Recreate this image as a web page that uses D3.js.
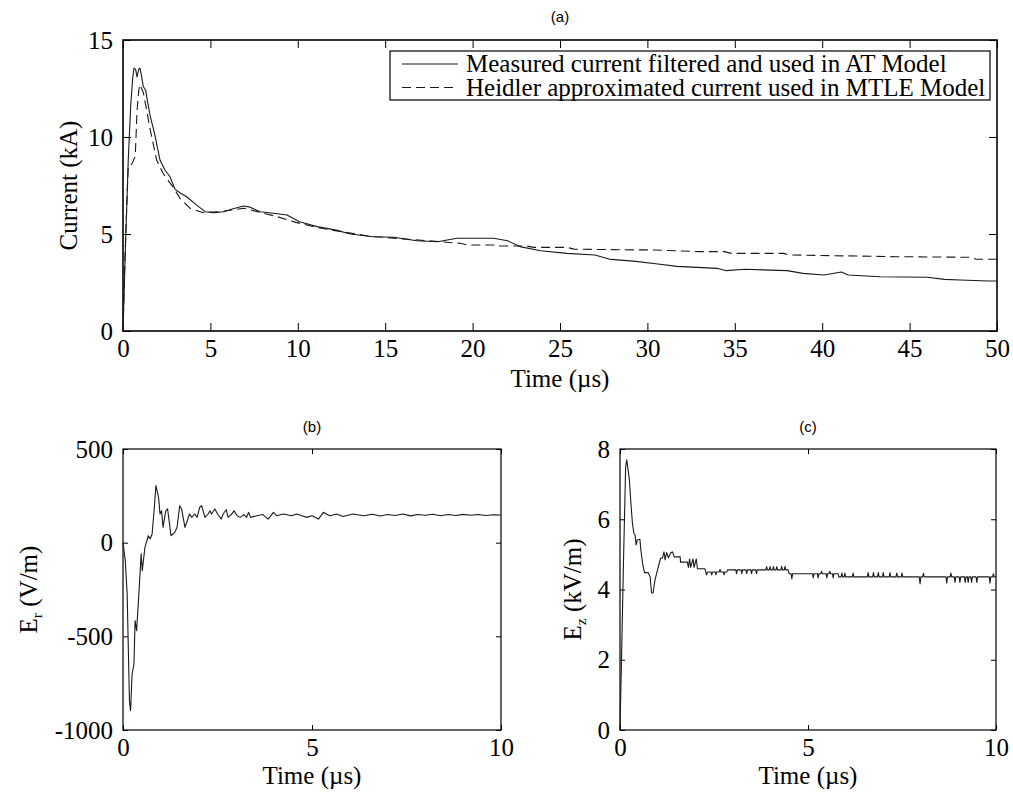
<!DOCTYPE html>
<html>
<head>
<meta charset="utf-8">
<script src="https://cdn.jsdelivr.net/npm/d3@7"></script>
<style>
  html, body { margin: 0; padding: 0; background: #fff; }
  svg { display: block; }
  .tick text { font-family: "Liberation Serif", "Times New Roman", serif; fill: #000; }
</style>
</head>
<body>
<svg id="fig" width="1013" height="798"></svg>
<script>
// ---- (a) lightning return-stroke current, kA vs µs ----
const measuredCurrent = [
  [0,0],[0.17,5.2],[0.3,8.8],[0.44,11.6],[0.55,13.0],[0.63,13.55],[0.72,13.5],[0.8,13.1],
  [0.9,13.5],[0.97,13.55],[1.05,13.2],[1.16,12.6],[1.3,12.4],[1.39,11.9],[1.55,11.1],
  [1.8,10.2],[2.12,8.8],[2.4,8.3],[2.69,7.95],[2.98,7.3],[3.3,7.1],[3.64,6.92],[4.2,6.5],
  [4.7,6.15],[5.2,6.1],[5.76,6.15],[6.3,6.3],[6.9,6.44],[7.2,6.4],[7.85,6.15],[8.6,6.07],
  [9.38,5.98],[10.1,5.63],[11.1,5.38],[12.2,5.2],[13,5.0],[14.3,4.86],[15.5,4.83],
  [16.8,4.65],[18,4.6],[19.1,4.78],[21.2,4.78],[22,4.65],[22.7,4.35],[23.9,4.14],
  [25.4,4.0],[27,3.92],[27.9,3.69],[29.2,3.6],[30.6,3.45],[31.7,3.33],[34,3.23],
  [34.5,3.11],[35.6,3.18],[38,3.11],[38.9,2.97],[40.1,2.89],[41.1,3.04],[41.5,2.89],
  [43.3,2.8],[46,2.77],[47,2.66],[47.9,2.63],[49.5,2.58],[50,2.58]
];
const heidlerCurrent = [
  [0,0],[0.1,3.5],[0.3,8.5],[0.5,8.6],[0.7,9.0],[0.8,11.3],[0.9,12.4],[0.97,12.7],
  [1.16,12.3],[1.35,11.4],[1.55,10.4],[1.93,8.8],[2.31,8.1],[2.88,7.4],[3.26,6.84],
  [3.84,6.32],[4.6,6.1],[5.6,6.15],[6.9,6.33],[7.9,6.1],[8.8,5.9],[9.9,5.6],[11,5.35],
  [12.5,5.12],[14,4.9],[16,4.75],[18.2,4.6],[19.3,4.52],[19.7,4.43],[21.2,4.43],
  [21.6,4.38],[23.1,4.38],[23.5,4.31],[25.4,4.31],[25.8,4.22],[29.2,4.18],[30.2,4.18],
  [33,4.09],[34.4,4.09],[34.8,4.0],[37.8,4.0],[38.1,3.92],[44.3,3.83],[48.5,3.8],
  [48.8,3.7],[50,3.7]
];
const currentTicksX = [0,5,10,15,20,25,30,35,40,45,50];
const currentTicksY = [0,5,10,15];
const legendLabels = [
  "Measured current filtered and used in AT Model",
  "Heidler approximated current used in MTLE Model"
];

// ---- (b) radial electric field Er, V/m vs µs ----
const radialField = [
  [0,0],[0.06,-96],[0.11,-274],[0.17,-843],[0.2,-897],[0.24,-701],[0.29,-648],[0.32,-416],
  [0.36,-470],[0.43,-238],[0.48,-60],[0.51,-150],[0.58,-25],[0.67,37],[0.72,20],[0.77,46],
  [0.83,189],[0.87,305],[0.94,242],[0.98,153],[1.02,170],[1.06,82],[1.13,170],[1.18,180],
  [1.27,37],[1.37,55],[1.43,82],[1.5,197],[1.55,180],[1.64,82],[1.7,117],[1.76,153],
  [1.82,135],[1.9,153],[1.96,135],[2.03,189],[2.08,197],[2.17,135],[2.25,153],[2.3,170],
  [2.34,153],[2.43,180],[2.5,153],[2.6,126],[2.65,153],[2.73,176],[2.78,135],[2.86,150],
  [2.94,170],[3.02,144],[3.1,135],[3.2,150],[3.27,135],[3.32,162],[3.38,135],[3.54,144],
  [3.7,150],[3.84,126],[3.98,162],[4.06,144],[4.24,153],[4.46,144],[4.6,153],[4.73,144],
  [4.86,135],[5.0,144],[5.17,126],[5.3,162],[5.47,144],[5.65,153],[5.82,140],[6.09,153],
  [6.36,144],[6.6,152],[6.8,142],[7.0,150],[7.2,145],[7.4,153],[7.6,143],[7.8,150],
  [8.0,146],[8.2,152],[8.4,144],[8.6,150],[8.8,145],[9.0,151],[9.2,146],[9.4,150],
  [9.6,145],[9.8,149],[10,148]
];
const fieldTicksX = [0,5,10];
const radialTicksY = [-1000,-500,0,500];

// ---- (c) vertical electric field Ez, kV/m vs µs ----
const verticalField = [
  [0,0],[0.04,2.0],[0.09,4.65],[0.15,7.5],[0.18,7.69],[0.25,7.12],[0.29,6.46],[0.33,5.89],
  [0.37,5.6],[0.4,5.55],[0.43,5.27],[0.46,5.41],[0.53,5.43],[0.55,5.17],[0.6,4.75],
  [0.65,4.48],[0.75,4.48],[0.8,4.37],[0.84,3.9],[0.88,3.9],[0.93,4.27],[1.02,4.65],
  [1.08,4.89],[1.13,4.9],[1.17,5.07],[1.2,4.84],[1.24,5.05],[1.29,4.9],[1.35,5.05],
  [1.4,5.07],[1.44,4.93],[1.6,4.93],[1.61,4.78],[1.79,4.78],[1.82,4.63],[1.85,4.87],
  [1.88,4.63],[1.94,4.87],[1.97,4.63],[2.03,4.87],[2.06,4.59],[2.26,4.59],[2.28,4.5],
  [2.3,4.42],[2.33,4.5],[2.42,4.5],[2.44,4.42],[2.46,4.5],[2.53,4.5],[2.55,4.42],[2.57,4.5],
  [2.64,4.5],[2.66,4.57],[2.68,4.5],[2.75,4.5],[2.77,4.42],[2.79,4.5],[2.84,4.5],[2.86,4.56],
  [3.08,4.56],[3.1,4.45],[3.12,4.56],[3.22,4.56],[3.24,4.45],[3.26,4.56],[3.35,4.56],
  [3.37,4.45],[3.39,4.56],[3.48,4.56],[3.5,4.45],[3.52,4.56],[3.61,4.56],[3.63,4.45],
  [3.65,4.56],[3.88,4.56],[3.9,4.65],[3.92,4.56],[3.97,4.56],[3.99,4.65],[4.01,4.56],
  [4.06,4.56],[4.08,4.65],[4.1,4.56],[4.15,4.56],[4.17,4.65],[4.19,4.56],[4.28,4.56],
  [4.3,4.66],[4.32,4.56],[4.37,4.56],[4.39,4.66],[4.41,4.56],[4.47,4.56],[4.5,4.45],
  [4.55,4.45],[4.57,4.3],[4.59,4.45],[5.12,4.45],[5.14,4.33],[5.16,4.45],[5.25,4.45],
  [5.27,4.33],[5.29,4.45],[5.34,4.45],[5.36,4.52],[5.38,4.45],[5.48,4.45],[5.5,4.33],
  [5.52,4.45],[5.56,4.45],[5.58,4.52],[5.6,4.45],[5.65,4.45],[5.67,4.33],[5.69,4.45],
  [5.8,4.45],[5.82,4.36],[5.88,4.36],[5.9,4.47],[5.92,4.36],[5.96,4.36],[5.98,4.47],
  [6.0,4.36],[6.18,4.36],[6.2,4.47],[6.22,4.36],[6.58,4.36],[6.6,4.48],[6.62,4.36],
  [6.72,4.36],[6.74,4.48],[6.76,4.36],[6.85,4.36],[6.87,4.48],[6.89,4.36],[6.98,4.36],
  [7.0,4.48],[7.02,4.36],[7.16,4.36],[7.18,4.48],[7.2,4.36],[7.34,4.36],[7.36,4.47],
  [7.38,4.36],[7.48,4.36],[7.5,4.47],[7.52,4.36],[7.96,4.36],[7.98,4.16],[8.0,4.36],
  [8.05,4.36],[8.07,4.46],[8.09,4.36],[8.67,4.36],[8.69,4.18],[8.71,4.36],[8.78,4.36],
  [8.8,4.47],[8.82,4.36],[8.89,4.36],[8.91,4.2],[8.93,4.36],[9.02,4.36],[9.04,4.2],
  [9.06,4.36],[9.16,4.36],[9.18,4.2],[9.2,4.36],[9.24,4.36],[9.26,4.2],[9.28,4.36],
  [9.33,4.36],[9.35,4.2],[9.37,4.36],[9.47,4.36],[9.49,4.2],[9.51,4.36],[9.82,4.36],
  [9.84,4.18],[9.86,4.36],[9.91,4.36],[9.93,4.45],[9.95,4.36],[10,4.36]
];
const verticalTicksY = [0,2,4,6,8];

const SERIF = '"Liberation Serif", "Times New Roman", serif';
const SANS = '"Liberation Sans", Arial, sans-serif';
const svg = d3.select("#fig");

// Draws one boxed axes with inward ticks on all four sides.
function makePanel(o) {
  const x = d3.scaleLinear().domain(o.xDomain).range([o.left, o.right]);
  const y = d3.scaleLinear().domain(o.yDomain).range([o.bottom, o.top]);
  const g = svg.append("g");
  const tl = o.tickLen;
  const fs = o.fontSize;

  const styleAxis = sel => {
    sel.select(".domain").remove();
    sel.selectAll(".tick line").attr("stroke", "#000").attr("stroke-width", 1);
    sel.selectAll(".tick text").attr("font-size", fs);
  };

  g.append("g").attr("transform", `translate(0,${o.bottom})`)
    .call(d3.axisBottom(x).tickValues(o.xTicks).tickSize(-tl).tickPadding(o.xPad)
      .tickFormat(d => String(d)))
    .call(styleAxis);
  g.append("g").attr("transform", `translate(0,${o.top})`)
    .call(d3.axisTop(x).tickValues(o.xTicks).tickSize(-tl).tickFormat(""))
    .call(styleAxis);
  g.append("g").attr("transform", `translate(${o.left},0)`)
    .call(d3.axisLeft(y).tickValues(o.yTicks).tickSize(-tl).tickPadding(o.yPad)
      .tickFormat(d => String(d)))
    .call(styleAxis);
  g.append("g").attr("transform", `translate(${o.right},0)`)
    .call(d3.axisRight(y).tickValues(o.yTicks).tickSize(-tl).tickFormat(""))
    .call(styleAxis);

  g.append("rect")
    .attr("x", o.left).attr("y", o.top)
    .attr("width", o.right - o.left).attr("height", o.bottom - o.top)
    .attr("fill", "none").attr("stroke", "#000").attr("stroke-width", o.frameWidth);

  const line = d3.line().x(d => x(d[0])).y(d => y(d[1]));
  o.series.forEach(s => {
    g.append("path").datum(s.data)
      .attr("d", line)
      .attr("fill", "none")
      .attr("stroke", "#1a1a1a")
      .attr("stroke-width", 1.1)
      .attr("stroke-linejoin", "round")
      .attr("stroke-dasharray", s.dash || null);
  });

  // panel title
  g.append("text").attr("x", (o.left + o.right) / 2).attr("y", o.titleY)
    .attr("text-anchor", "middle").attr("font-family", SANS).attr("font-size", 15)
    .text(o.title);
  // x label
  g.append("text").attr("x", (o.left + o.right) / 2).attr("y", o.xLabelY)
    .attr("text-anchor", "middle").attr("font-family", SERIF).attr("font-size", fs)
    .text("Time (\u00B5s)");
  // y label
  const yl = g.append("text")
    .attr("transform", `translate(${o.yLabelX},${(o.top + o.bottom) / 2}) rotate(-90)`)
    .attr("text-anchor", "middle").attr("font-family", SERIF).attr("font-size", fs);
  if (o.ySub) {
    yl.append("tspan").text(o.yLabel);
    yl.append("tspan").attr("font-size", fs * 0.62).attr("dy", 5).text(o.ySub);
    yl.append("tspan").attr("dy", -5).text(" " + o.yUnit);
  } else {
    yl.text(o.yLabel);
  }
  return { g, x, y };
}

// (a)
const pa = makePanel({
  left: 123, right: 997, top: 40, bottom: 331,
  xDomain: [0, 50], yDomain: [0, 15],
  xTicks: currentTicksX, yTicks: currentTicksY,
  tickLen: 8, fontSize: 25, xPad: 8, yPad: 10, frameWidth: 1.6,
  series: [{ data: measuredCurrent }, { data: heidlerCurrent, dash: "9,5" }],
  title: "(a)", titleY: 22, xLabelY: 387, yLabelX: 77, yLabel: "Current (kA)"
});

// legend box
const lg = pa.g.append("g");
lg.append("rect").attr("x", 390).attr("y", 51).attr("width", 600).attr("height", 49)
  .attr("fill", "#fff").attr("stroke", "#000").attr("stroke-width", 1.2);
legendLabels.forEach((t, i) => {
  const cy = 64 + i * 23.5;
  lg.append("line").attr("x1", 402).attr("x2", 458).attr("y1", cy).attr("y2", cy)
    .attr("stroke", "#1a1a1a").attr("stroke-width", 1.1)
    .attr("stroke-dasharray", i === 1 ? "9,5" : null);
  lg.append("text").attr("x", 466).attr("y", cy + 8)
    .attr("font-family", SERIF).attr("font-size", 25).text(t);
});

// (b)
makePanel({
  left: 123, right: 501, top: 449, bottom: 730,
  xDomain: [0, 10], yDomain: [-1000, 500],
  xTicks: fieldTicksX, yTicks: radialTicksY,
  tickLen: 5, fontSize: 25, xPad: 8, yPad: 10, frameWidth: 1.2,
  series: [{ data: radialField }],
  title: "(b)", titleY: 432, xLabelY: 784, yLabelX: 37,
  yLabel: "E", ySub: "r", yUnit: "(V/m)"
});

// (c)
makePanel({
  left: 620, right: 996, top: 449, bottom: 730,
  xDomain: [0, 10], yDomain: [0, 8],
  xTicks: fieldTicksX, yTicks: verticalTicksY,
  tickLen: 5, fontSize: 25, xPad: 8, yPad: 10, frameWidth: 1.2,
  series: [{ data: verticalField }],
  title: "(c)", titleY: 432, xLabelY: 784, yLabelX: 581,
  yLabel: "E", ySub: "z", yUnit: "(kV/m)"
});
</script>
</body>
</html>
